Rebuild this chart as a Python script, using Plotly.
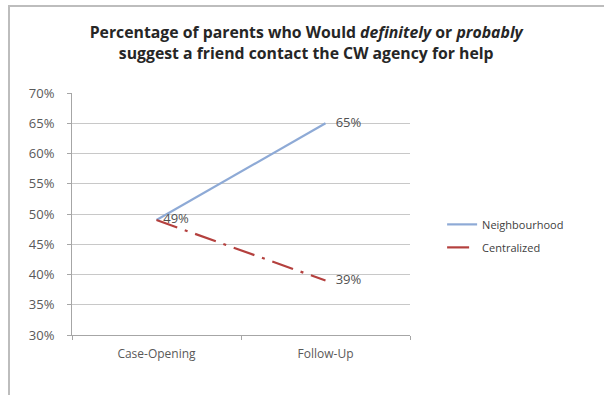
import plotly.graph_objects as go

categories = ["Case-Opening", "Follow-Up"]
neighbourhood = [0.49, 0.65]
centralized = [0.49, 0.39]
neigh_labels = ["", "\u00a0\u00a0\u00a065%"]
cent_labels = ["\u00a0\u00a049%", "\u00a0\u00a0\u00a039%"]

FONT = "Open Sans"
fig = go.Figure()
fig.add_trace(go.Scatter(
    x=categories, y=neighbourhood, name="Neighbourhood", mode="lines+text",
    legendgroup="a",
    line=dict(color="#8eaad6", width=2.2),
    text=neigh_labels, textposition="middle right",
    textfont=dict(family=FONT, size=13, color="#505050"),
))
fig.add_trace(go.Scatter(
    x=categories, y=centralized, name="Centralized", mode="lines+text",
    legendgroup="b",
    line=dict(color="#b4403e", width=2.2, dash="22px,8px,3px,8px"),
    text=cent_labels, textposition="middle right",
    textfont=dict(family=FONT, size=13, color="#505050"),
))

fig.update_layout(
    width=604, height=395,
    margin=dict(l=72, r=194, t=93, b=60),
    paper_bgcolor="white", plot_bgcolor="white",
    font=dict(family=FONT, size=11, color="#595959"),
    title=dict(
        text="<b>Percentage of parents who Would <i>definitely</i> or <i>probably</i><br>suggest a friend contact the CW agency for help</b>",
        x=0.507, xanchor="center", y=0.903, yanchor="middle",
        font=dict(family=FONT, size=15.8, color="#262626"),
    ),
    showlegend=True,
    legend=dict(
        x=1.095, xanchor="left", y=0.517, yanchor="top",
        font=dict(family=FONT, size=11, color="#404040"),
        bgcolor="rgba(0,0,0,0)", itemwidth=30, tracegroupgap=4,
        traceorder="grouped",
    ),
    xaxis=dict(
        type="category", range=[-0.5, 1.5],
        showline=True, linecolor="#a6a6a6", linewidth=1,
        ticks="outside", tickson="boundaries", ticklen=4, tickcolor="#a6a6a6",
        showgrid=False, tickfont=dict(family=FONT, size=12, color="#595959"),
        ticklabelstandoff=8,
    ),
    yaxis=dict(
        range=[0.3, 0.7], dtick=0.05, tick0=0.3, tickformat=".0%",
        showline=True, linecolor="#a6a6a6", linewidth=1,
        ticks="outside", ticklen=4, tickcolor="#a6a6a6",
        showgrid=True, gridcolor="#c8c8c8", gridwidth=1,
        zeroline=False, tickfont=dict(family=FONT, size=13, color="#595959"),
        ticklabelstandoff=10,
    ),
    shapes=[dict(
        type="rect", xref="paper", yref="paper",
        x0=(9 - 72) / 338, x1=(620 - 72) / 338,
        y0=-(410 - 335) / 242, y1=(335 - 6) / 242,
        line=dict(color="#bdbdbd", width=2), fillcolor="rgba(0,0,0,0)", layer="below",
    )],
)

fig.write_html("out.html")
